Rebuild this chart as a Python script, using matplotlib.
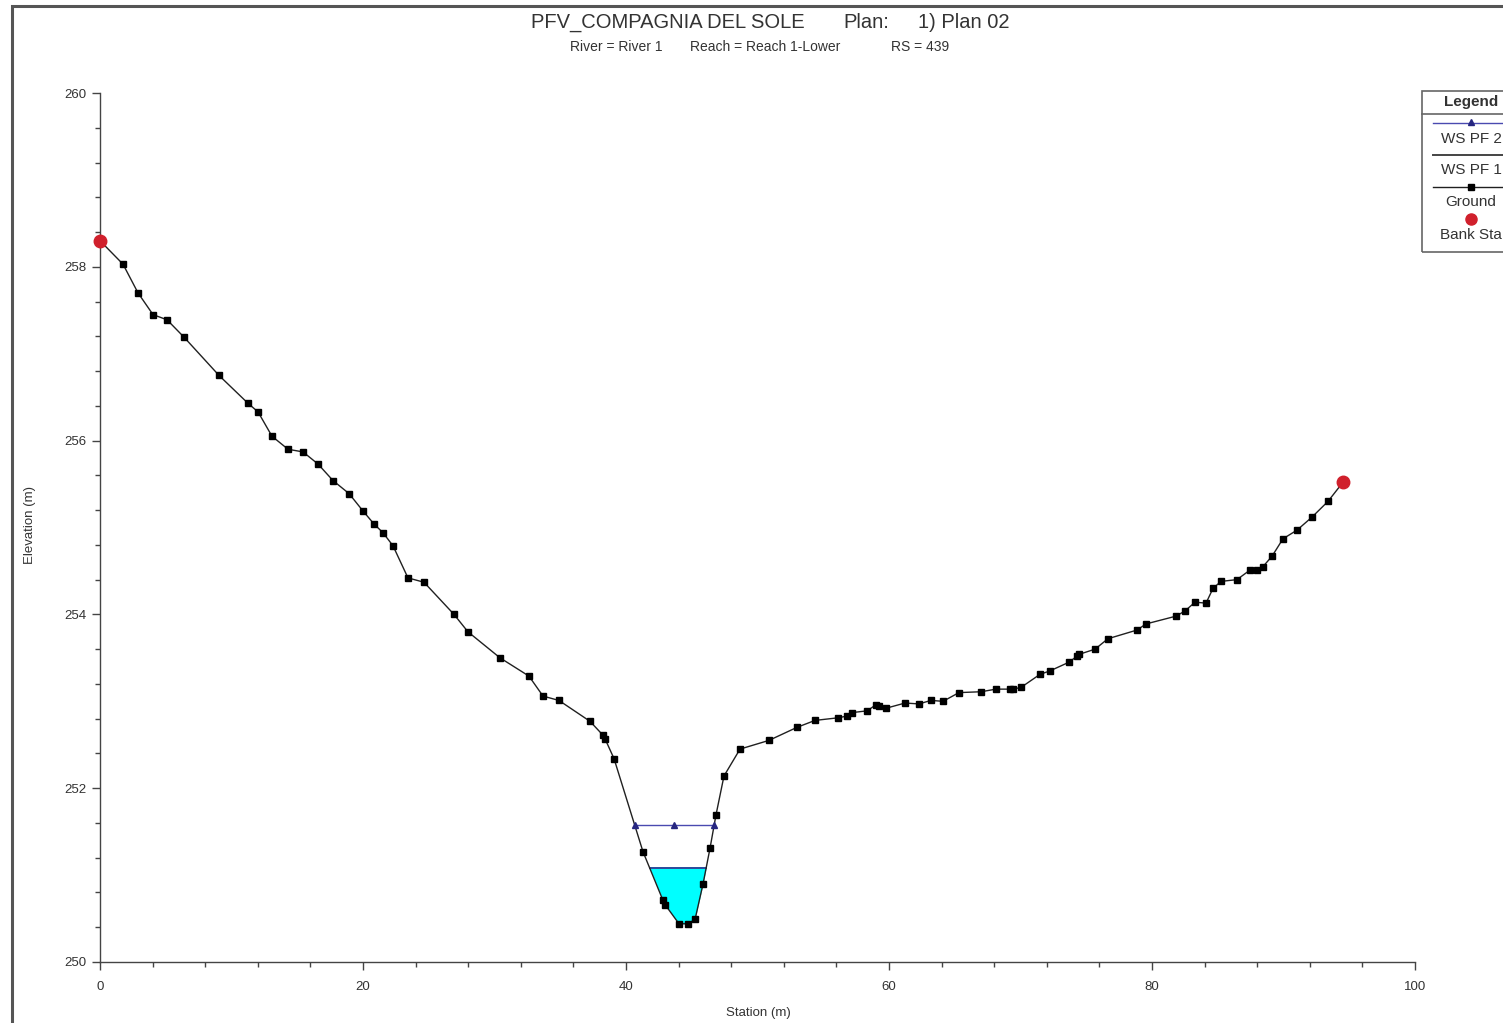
import numpy as np
import matplotlib.pyplot as plt
from matplotlib.lines import Line2D
from matplotlib.patches import Rectangle

plt.rcParams['font.family'] = ['Liberation Sans', 'DejaVu Sans']

station = [0.00, 1.75, 2.89, 4.03, 5.10, 6.39, 9.05, 11.25, 12.02, 13.08,
           14.30, 15.44, 16.58, 17.72, 18.94, 20.00, 20.84, 21.52, 22.28, 23.42,
           24.64, 26.92, 27.98, 30.42, 32.62, 33.69, 34.90, 37.26, 38.25, 38.40,
           39.09, 41.29, 42.81, 42.97, 44.03, 44.71, 45.25, 45.86, 46.39, 46.84,
           47.45, 48.67, 50.87, 53.00, 54.37, 56.12, 56.81, 57.19, 58.33, 59.01,
           59.24, 59.77, 61.22, 62.28, 63.19, 64.11, 65.32, 67.00, 68.14, 69.20,
           69.43, 70.04, 71.48, 72.24, 73.69, 74.30, 74.45, 75.67, 76.65, 78.86,
           79.54, 81.83, 82.51, 83.27, 84.11, 84.64, 85.25, 86.46, 87.45, 87.98,
           88.44, 89.13, 89.96, 91.03, 92.17, 93.38, 94.52]
ground = [258.30, 258.03, 257.70, 257.45, 257.39, 257.19, 256.75, 256.43, 256.33, 256.05,
          255.90, 255.87, 255.73, 255.54, 255.39, 255.19, 255.04, 254.94, 254.79, 254.42,
          254.37, 254.00, 253.80, 253.50, 253.29, 253.06, 253.01, 252.77, 252.61, 252.57,
          252.34, 251.27, 250.71, 250.66, 250.44, 250.44, 250.49, 250.90, 251.31, 251.69,
          252.14, 252.45, 252.55, 252.70, 252.78, 252.81, 252.83, 252.87, 252.89, 252.96,
          252.95, 252.92, 252.98, 252.97, 253.01, 253.00, 253.10, 253.11, 253.14, 253.14,
          253.14, 253.16, 253.31, 253.35, 253.45, 253.52, 253.54, 253.60, 253.72, 253.82,
          253.89, 253.98, 254.04, 254.14, 254.13, 254.30, 254.38, 254.40, 254.51, 254.51,
          254.55, 254.67, 254.87, 254.97, 255.12, 255.30, 255.52]
bank_sta = [0.00, 94.52]
bank_elev = [258.30, 255.52]
ws_pf1 = 251.08
ws_pf2 = 251.58
invert_idx = 34  # punto mas bajo del cauce

station = np.array(station); ground = np.array(ground)

def ws_limits(ws):
    # interseccion del nivel con el terreno a cada lado del cauce
    l = station[:invert_idx+1][::-1]; gl = ground[:invert_idx+1][::-1]
    r = station[invert_idx:]; gr = ground[invert_idx:]
    return np.interp(ws, gl, l), np.interp(ws, gr, r)

def fx(px): return px/1503
def fy(py): return 1 - py/1023

txt_col = '#333333'

# ------ Figura
fig = plt.figure(figsize=(15.03, 10.23), dpi=100)
ax = fig.add_axes([fx(100), fy(962), 1315/1503, 869/1023])

# marco exterior
fig.patches.append(Rectangle((fx(12), -0.01), 1.2, fy(6)+0.01, transform=fig.transFigure,
                             fill=False, ec='#555555', lw=2.2))

# agua PF1
xl1, xr1 = ws_limits(ws_pf1)
mask = (station > xl1) & (station < xr1)
xs = np.concatenate([[xl1], station[mask], [xr1]])
gs = np.concatenate([[ws_pf1], ground[mask], [ws_pf1]])
ax.fill_between(xs, gs, ws_pf1, color='#00ffff', lw=0, zorder=1)
ax.plot([xl1, xr1], [ws_pf1, ws_pf1], color='#2a4a9a', lw=1.4, zorder=2)

# agua PF2
xl2, xr2 = ws_limits(ws_pf2)
ax.plot([xl2, xr2], [ws_pf2, ws_pf2], color='#4a4ab0', lw=1.0, zorder=2)
ax.plot([xl2, (xl2+xr2)/2, xr2], [ws_pf2]*3, ls='none', marker='^', ms=4.5,
        color='#262680', zorder=4)

# terreno
ax.plot(station, ground, color='#202020', lw=1.0, marker='s', ms=4.5,
        mfc='black', mec='black', zorder=3)
ax.plot(bank_sta, bank_elev, ls='none', marker='o', ms=9, color='#d0202c', zorder=5,
        clip_on=False)

ax.set_xlim(0, 100)
ax.set_ylim(250, 260)
ax.set_xticks(np.arange(0, 101, 20))
ax.set_xticks(np.arange(0, 101, 4), minor=True)
ax.set_yticks(np.arange(250, 261, 2))
ax.set_yticks(np.arange(250, 260.01, 0.4), minor=True)
for s in ['top', 'right']:
    ax.spines[s].set_visible(False)
for s in ['left', 'bottom']:
    ax.spines[s].set_color('#444444')
    ax.spines[s].set_linewidth(1.0)
ax.tick_params(which='major', length=6, width=1, color='#444444', labelsize=9.5,
               labelcolor=txt_col)
ax.tick_params(which='minor', length=3.5, width=1, color='#444444')
ax.tick_params(axis='x', pad=8)

# rotulos de ejes
fig.text(fx(758), fy(1013), 'Station (m)', ha='center', va='center', fontsize=9.5, color=txt_col)
fig.text(fx(30), fy(525), 'Elevation (m)', ha='center', va='center', fontsize=9.5,
         color=txt_col, rotation=90)

# titulos
fig.text(fx(531), fy(22), 'PFV_COMPAGNIA DEL SOLE', ha='left', va='center', fontsize=14.5, color=txt_col)
fig.text(fx(843), fy(22), 'Plan:', ha='left', va='center', fontsize=14.5, color=txt_col)
fig.text(fx(918), fy(22), '1) Plan 02', ha='left', va='center', fontsize=14.5, color=txt_col)
fig.text(fx(570), fy(47), 'River = River 1', ha='left', va='center', fontsize=10, color=txt_col)
fig.text(fx(690), fy(47), 'Reach = Reach 1-Lower', ha='left', va='center', fontsize=10, color=txt_col)
fig.text(fx(891), fy(47), 'RS = 439', ha='left', va='center', fontsize=10, color=txt_col)

# leyenda (cortada a la derecha como en el original)
fig.patches.append(Rectangle((fx(1422), fy(252)), 0.2, (252-91)/1023, transform=fig.transFigure,
                             fill=False, ec='#666666', lw=1.2))
fig.lines.append(Line2D([fx(1422), 1.1], [fy(114), fy(114)], transform=fig.transFigure,
                        color='#666666', lw=1.2))
cx = fx(1471)
fig.text(cx, fy(102), 'Legend', ha='center', va='center', fontsize=11,
         fontweight='bold', color=txt_col)
fig.lines.append(Line2D([fx(1433), 1.1], [fy(123), fy(123)], transform=fig.transFigure,
                        color='#4a4ab0', lw=1.0))
fig.lines.append(Line2D([cx], [fy(122)], transform=fig.transFigure, marker='^', ms=4.5,
                        color='#262680', ls='none'))
fig.text(cx, fy(139), 'WS PF 2', ha='center', va='center', fontsize=11, color=txt_col)
fig.lines.append(Line2D([fx(1433), 1.1], [fy(155), fy(155)], transform=fig.transFigure,
                        color='#444444', lw=1.4))
fig.text(cx, fy(170), 'WS PF 1', ha='center', va='center', fontsize=11, color=txt_col)
fig.lines.append(Line2D([fx(1433), 1.1], [fy(187), fy(187)], transform=fig.transFigure,
                        color='#202020', lw=1.0))
fig.lines.append(Line2D([cx], [fy(187)], transform=fig.transFigure, marker='s', ms=4.5,
                        color='black', ls='none'))
fig.text(cx, fy(202), 'Ground', ha='center', va='center', fontsize=11, color=txt_col)
fig.lines.append(Line2D([cx], [fy(219)], transform=fig.transFigure, marker='o', ms=8,
                        color='#d0202c', ls='none'))
fig.text(cx, fy(235), 'Bank Sta', ha='center', va='center', fontsize=11, color=txt_col)

fig.savefig('out.png', dpi=100)
